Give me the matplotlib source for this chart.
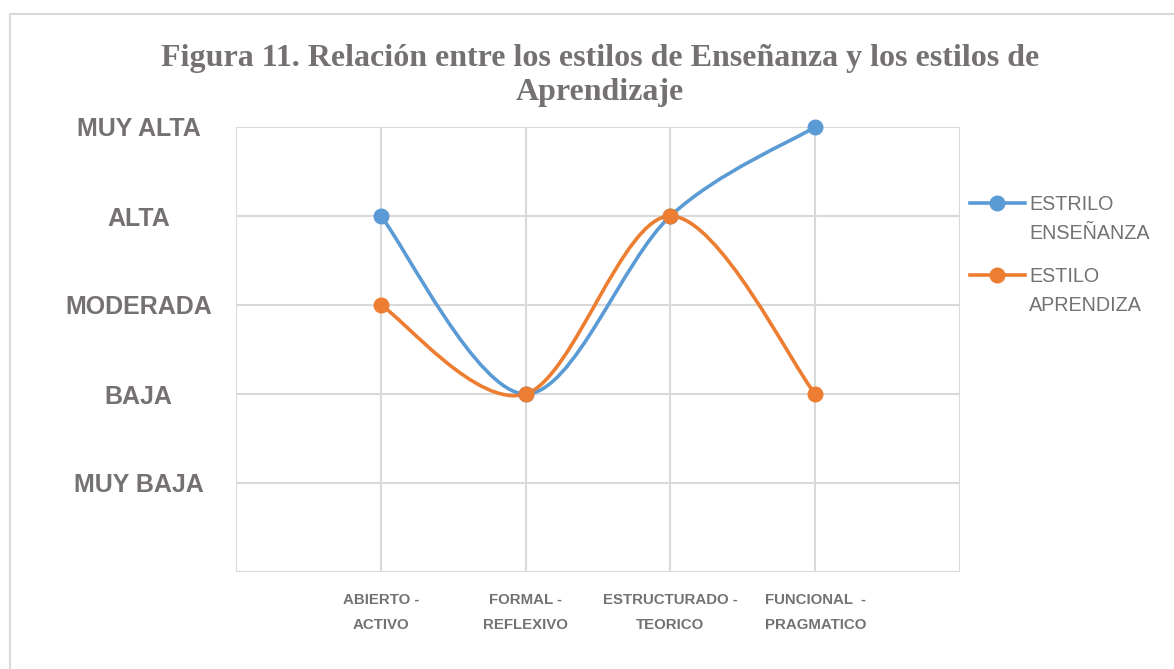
"""Relación entre estilos de enseñanza y aprendizaje - curvas suavizadas"""
import matplotlib
matplotlib.use("Agg")
import matplotlib.pyplot as plt
import numpy as np
from matplotlib.path import Path
from matplotlib.patches import PathPatch
from matplotlib.lines import Line2D

# data
categorias = ["ABIERTO -\nACTIVO", "FORMAL -\nREFLEXIVO",
              "ESTRUCTURADO -\nTEORICO", "FUNCIONAL  -\nPRAGMATICO"]
niveles = ["MUY BAJA", "BAJA", "MODERADA", "ALTA", "MUY ALTA"]
ensenanza = [4, 2, 4, 5]
aprendizaje = [3, 2, 4, 2]
series_names = ["ESTRILO\nENSEÑANZA", "ESTILO\nAPRENDIZA"]
colores = ["#5B9BD5", "#ED7D31"]

gris = "#767171"
grid_c = "#d9d9d9"
W, H = 1174, 669


def smooth_path(x, y):
    # catmull-rom like bezier, same idea as excel smoothed line
    pts = np.column_stack([x, y]).astype(float)
    p = np.vstack([pts[0], pts, pts[-1]])
    verts = [tuple(pts[0])]
    codes = [Path.MOVETO]
    for i in range(1, len(p) - 2):
        c1 = p[i] + (p[i + 1] - p[i - 1]) / 6
        c2 = p[i + 1] - (p[i + 2] - p[i]) / 6
        verts += [tuple(c1), tuple(c2), tuple(p[i + 1])]
        codes += [Path.CURVE4] * 3
    return Path(verts, codes)


fig = plt.figure(figsize=(W / 100, H / 100), dpi=100)
ax = fig.add_axes([236 / W, 1 - 572 / H, 724 / W, 445 / H])

x = np.arange(len(categorias))
for vals, col in zip([ensenanza, aprendizaje], colores):
    ax.add_patch(PathPatch(smooth_path(x, vals), facecolor="none",
                           edgecolor=col, lw=2.6, zorder=3, clip_on=False))
    ax.plot(x, vals, "o", color=col, ms=10.5, zorder=4, clip_on=False)

ax.set_xlim(-1, 4)
ax.set_ylim(0, 5)
for s in ax.spines.values():
    s.set_visible(False)
for v in range(-1, 5):
    ax.axvline(v, color=grid_c, lw=1.5, zorder=1)
for v in range(0, 6):
    ax.axhline(v, color=grid_c, lw=1.5, zorder=1)

ax.set_yticks(range(1, 6))
ax.set_yticklabels(niveles, fontsize=18, fontweight="bold", color=gris,
                   family="Liberation Sans", ha="center", va="center_baseline")
ax.tick_params(axis="y", length=0, pad=70)
ax.set_xticks(x)
ax.set_xticklabels(categorias, fontsize=10.8, fontweight="bold", color=gris,
                   family="Liberation Sans", linespacing=2.0)
ax.tick_params(axis="x", length=0, pad=15)

fig.text(0.511, 0.934,
         "Figura 11. Relación entre los estilos de Enseñanza y los estilos de\nAprendizaje",
         ha="center", va="top", fontsize=23, fontweight="bold", color=gris,
         family="Liberation Serif", linespacing=1.22)

# legend (handle aligned to first text line, like the original)
for i, (name, col) in enumerate(zip(series_names, colores)):
    yc = 1 - (203 + 72 * i) / H
    fig.add_artist(Line2D([970 / W, 1025 / W], [yc, yc], color=col, lw=2.6,
                          transform=fig.transFigure))
    fig.add_artist(Line2D([997 / W], [yc], marker="o", ms=10.5, color=col,
                          transform=fig.transFigure))
    fig.text(1029 / W, yc + 8 / H, name, ha="left", va="top", fontsize=14.2,
             color=gris, family="Liberation Sans", linespacing=1.68)

# outer chart frame (only top and left visible)
fig.add_artist(Line2D([10 / W, 10 / W, 1], [0, 1 - 14 / H, 1 - 14 / H],
                      color=grid_c, lw=1.5, transform=fig.transFigure))

fig.savefig("out.png", dpi=100)
